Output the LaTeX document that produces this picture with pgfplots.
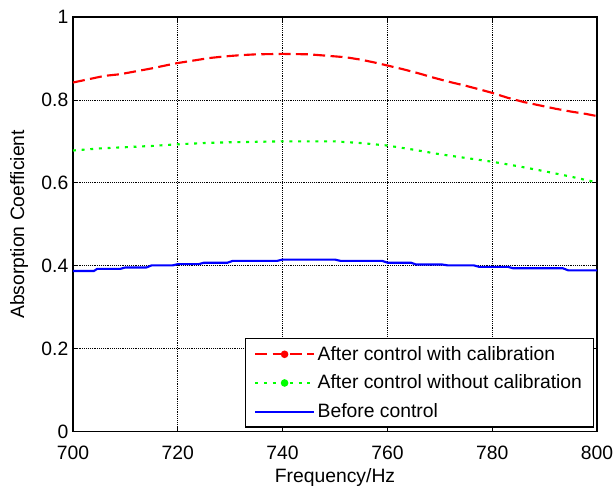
\documentclass[border=0pt]{standalone}
\usepackage{fontspec}
\setmainfont{Liberation Sans}
\usepackage{pgfplots}
\pgfplotsset{compat=1.18}
\definecolor{calred}{RGB}{255,0,0}
\definecolor{nocalgreen}{RGB}{0,255,0}
\definecolor{beforeblue}{RGB}{0,0,255}

\begin{document}
\begin{tikzpicture}
\begin{axis}[name=ax,
  scale only axis, width=393pt, height=311pt,
  xmin=700, xmax=800, ymin=0, ymax=1,
  xtick={700,720,...,800}, ytick={0,0.2,...,1},
  yticklabels={0,0.2,0.4,0.6,0.8,1},
  /pgf/number format/assume math mode=true,
  axis line style={line width=1pt},
  tick style={black, line width=0.6pt}, major tick length=4pt, tick align=inside,
  grid=major, grid style={black, densely dotted, line width=0.6pt},
  tick label style={font=\fontsize{14.5}{16}\selectfont},
  x tick label style={yshift=-7pt},
  label style={font=\fontsize{14.5}{16}\selectfont},
  xlabel={Frequency/Hz}, ylabel={Absorption Coefficient},
  xlabel style={at={(axis description cs:0.5,0)}, anchor=center, yshift=-34.5pt},
  ylabel style={yshift=3pt},
  legend cell align=left,
  legend style={at={(rel axis cs:0.994,0.01)}, anchor=south east,
    font=\fontsize{14.5}{16}\selectfont, draw=black, line width=0.8pt,
    inner xsep=6.5pt, inner ysep=3.5pt, row sep=5.5pt},
  legend image code/.code={\draw[mark repeat=2, mark phase=2, #1]
    plot coordinates {(0pt,0pt) (22pt,0pt) (44pt,0pt)};},
]
\addplot[calred, line width=1.6pt, dash pattern=on 9pt off 4pt,
  legend image post style={mark=*, mark size=2pt, mark options={solid}}]
  coordinates {
  (700,0.842) (703,0.850) (706,0.858) (709,0.862) (712,0.869) (715,0.876)
  (718,0.884) (720,0.889) (723,0.895) (726,0.901) (729,0.905) (732,0.908)
  (735,0.910) (740,0.911) (745,0.910) (749,0.906) (752,0.903) (755,0.897)
  (758,0.889) (760,0.883) (763,0.874) (766,0.864) (769,0.853) (772,0.843)
  (775,0.834) (778,0.824) (780,0.817) (783,0.805) (786,0.795) (789,0.787)
  (792,0.779) (795,0.772) (798,0.766) (800,0.761)};
\addlegendentry{After control with calibration}
\addplot[nocalgreen, line width=1.6pt, dash pattern=on 2.2pt off 4.3pt,
  legend image post style={mark=*, mark size=2pt, mark options={solid}}]
  coordinates {
  (700,0.678) (705,0.683) (710,0.686) (715,0.689) (720,0.693) (725,0.696)
  (730,0.698) (735,0.699) (740,0.700) (745,0.700) (750,0.700) (755,0.696)
  (760,0.690) (765,0.680) (770,0.669) (775,0.660) (780,0.651) (785,0.640)
  (790,0.628) (795,0.615) (800,0.601)};
\addlegendentry{After control without calibration}
\addplot[beforeblue, line width=1.6pt]
  coordinates {
  (700,0.3875) (704,0.3875) (704.6,0.3925) (709,0.3925) (710,0.396) (714,0.396)
  (715,0.401) (719,0.401) (720,0.404) (724,0.404) (725,0.4075) (729.5,0.4075)
  (730.5,0.412) (739,0.412) (740,0.415) (750,0.415) (751,0.412) (759,0.412)
  (760,0.4075) (764.5,0.4075) (765.5,0.403) (770.5,0.403) (771.5,0.401)
  (776.5,0.401) (777.5,0.3975) (783,0.3975) (784,0.394) (793.5,0.394)
  (794.5,0.389) (800,0.389)};
\addlegendentry{Before control}
\end{axis}
\pgfresetboundingbox
\path[use as bounding box] ([xshift=-54.75pt, yshift=-42.75pt]ax.south west)
  rectangle ([xshift=12.75pt, yshift=12.75pt]ax.north east);
\end{tikzpicture}
\end{document}
